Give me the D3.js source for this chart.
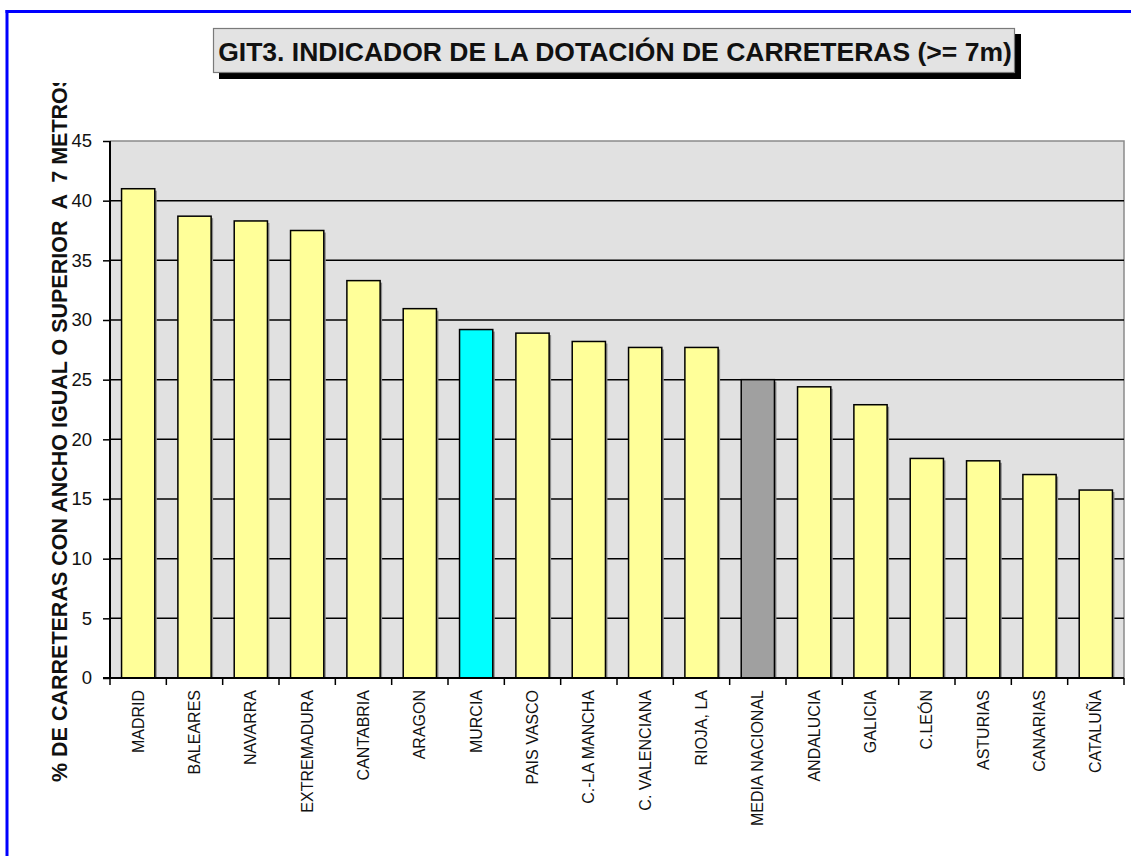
<!DOCTYPE html>
<html>
<head>
<meta charset="utf-8">
<script src="https://cdn.jsdelivr.net/npm/d3@7"></script>
<style>
body{margin:0;background:#fff;}
svg{display:block;}
text{font-family:"Liberation Sans",Arial,sans-serif;white-space:pre;}
</style>
</head>
<body>
<svg id="c" width="1131" height="856"></svg>
<script>
const title = "GIT3. INDICADOR DE LA DOTACIÓN DE CARRETERAS (>= 7m)";
const yLabel = "% DE CARRETERAS CON ANCHO IGUAL O SUPERIOR  A  7 METROS";
const categories = ["MADRID","BALEARES","NAVARRA","EXTREMADURA","CANTABRIA","ARAGON","MURCIA","PAIS VASCO","C.-LA MANCHA","C. VALENCIANA","RIOJA, LA","MEDIA NACIONAL","ANDALUCIA","GALICIA","C.LEÓN","ASTURIAS","CANARIAS","CATALUÑA"];
const values = [41.0, 38.7, 38.3, 37.5, 33.3, 30.95, 29.2, 28.9, 28.2, 27.7, 27.7, 25.0, 24.4, 22.9, 18.4, 18.2, 17.05, 15.75];
const yTicks = [0,5,10,15,20,25,30,35,40,45];
const highlightRegion = "MURCIA";
const averageCategory = "MEDIA NACIONAL";

const svg = d3.select("#c");
const L = 110, R = 1124, T = 141, B = 678;

const x = d3.scaleBand().domain(categories).range([L, R]).paddingInner(0.41).paddingOuter(0.205);
const y = d3.scaleLinear().domain([0, 45]).range([B, T]);

// page border (blue, top & left only visible)
svg.append("line").attr("x1",5.5).attr("x2",1131).attr("y1",11.5).attr("y2",11.5).attr("stroke","#0000ff").attr("stroke-width",3);
svg.append("line").attr("x1",7).attr("x2",7).attr("y1",10).attr("y2",856).attr("stroke","#0000ff").attr("stroke-width",3);

// title box with shadow
svg.append("rect").attr("x",219).attr("y",34).attr("width",802).attr("height",45).attr("fill","#000");
svg.append("rect").attr("x",213.5).attr("y",28.5).attr("width",801).attr("height",44).attr("fill","#e3e3e3").attr("stroke","#7a7a7a").attr("stroke-width",1.2);
svg.append("text").attr("x",615).attr("y",61).attr("text-anchor","middle")
  .attr("font-size",26.5).attr("font-weight","bold").attr("fill","#111").text(title);

// plot background
svg.append("rect").attr("x",L).attr("y",T).attr("width",R-L).attr("height",B-T).attr("fill","#e1e1e1");
svg.append("path").attr("d",`M${L},${T}H${R}V${B}`).attr("fill","none").attr("stroke","#8a8a8a").attr("stroke-width",1.5);

// gridlines
svg.append("g").selectAll("line").data(yTicks.filter(t => t > 0 && t < 45)).join("line")
  .attr("x1",L).attr("x2",R).attr("y1",d=>y(d)).attr("y2",d=>y(d))
  .attr("stroke","#000").attr("stroke-width",1.5);

// bars
const bars = svg.append("g");
const fillOf = c => c === highlightRegion ? "#00ffff" : (c === averageCategory ? "#a0a0a0" : "#ffff99");
bars.selectAll("rect.sh").data(categories).join("rect").attr("class","sh")
  .attr("x",c=>x(c)+2).attr("y",(c,i)=>y(values[i])+2)
  .attr("width",x.bandwidth()).attr("height",(c,i)=>B-y(values[i])-2)
  .attr("fill","#8c8c8c");
bars.selectAll("rect.b").data(categories).join("rect").attr("class","b")
  .attr("x",c=>x(c)).attr("y",(c,i)=>y(values[i]))
  .attr("width",x.bandwidth()).attr("height",(c,i)=>B-y(values[i]))
  .attr("fill",fillOf).attr("stroke","#000").attr("stroke-width",1.5);

// y axis
const ya = svg.append("g").attr("transform",`translate(${L},0)`)
  .call(d3.axisLeft(y).tickValues(yTicks).tickSize(7).tickPadding(11).tickFormat(d3.format("d")));
ya.select(".domain").attr("stroke","#000").attr("stroke-width",2).attr("d",`M0,${T}V${B}`);
ya.selectAll(".tick line").attr("stroke","#000").attr("stroke-width",1.5);
ya.selectAll(".tick text").attr("font-size",18.5).attr("fill","#111").attr("font-family","Liberation Sans, Arial, sans-serif");

// x axis line and boundary ticks
const step = x.step();
const bounds = d3.range(categories.length + 1).map(i => L + i*step);
svg.append("line").attr("x1",L-7).attr("x2",R).attr("y1",B).attr("y2",B).attr("stroke","#000").attr("stroke-width",2);
svg.append("g").selectAll("line").data(bounds).join("line")
  .attr("x1",d=>d).attr("x2",d=>d).attr("y1",B).attr("y2",B+7)
  .attr("stroke","#000").attr("stroke-width",1.5);

// x labels
svg.append("g").selectAll("text").data(categories).join("text")
  .attr("transform",c=>`translate(${x(c)+x.bandwidth()/2+5.5},${690}) rotate(-90)`)
  .attr("text-anchor","end").attr("font-size",16).attr("fill","#111").text(c=>c);

// y axis title (clipped at top)
svg.append("clipPath").attr("id","yclip").append("rect").attr("x",0).attr("y",83).attr("width",110).attr("height",773);
svg.append("g").attr("clip-path","url(#yclip)").append("text")
  .attr("transform","translate(67,782) rotate(-90)")
  .attr("font-size",21.5).attr("font-weight","bold").attr("fill","#111").text(yLabel);
</script>
</body>
</html>
